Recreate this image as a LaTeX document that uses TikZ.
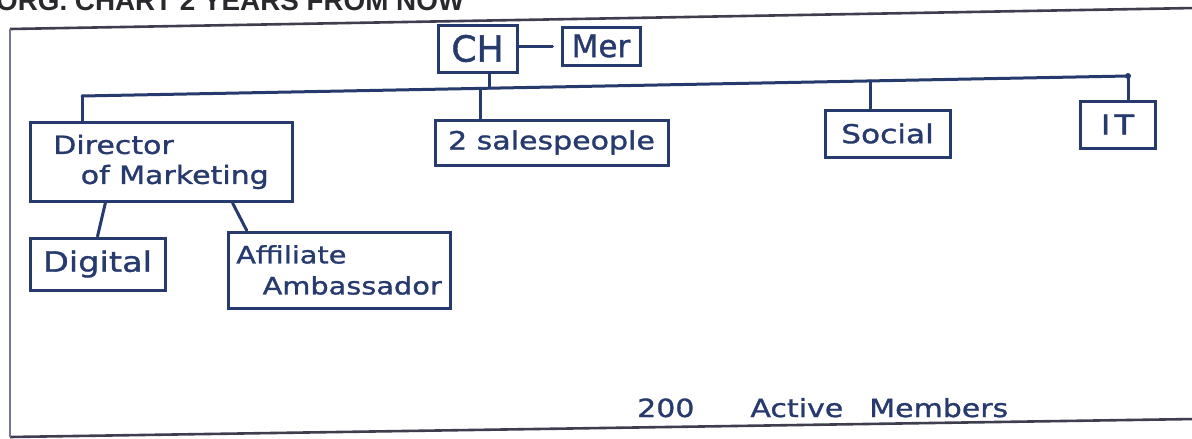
\documentclass[tikz,border=0pt]{standalone}
\usepackage{fontspec}
\setmainfont{Liberation Sans}
\newfontfamily\hand[FakeStretch=1.2,FakeBold=1.2]{DejaVu Sans}
\newfontfamily\handn[FakeBold=1.2]{DejaVu Sans}
\usetikzlibrary{calc}
\definecolor{ink}{RGB}{38,58,110}
\definecolor{framec}{RGB}{62,62,78}
\definecolor{framel}{RGB}{115,120,145}
\definecolor{headc}{RGB}{40,40,45}
\tikzset{
  box/.style={draw=ink, line width=3pt, rectangle, inner sep=0pt, text=ink, anchor=center},
  link/.style={draw=ink, line width=3pt, line cap=round},
  frameline/.style={draw=framec, line width=2.6pt},
  lbl/.style={text=ink, inner sep=0pt}
}
\begin{document}
\begin{tikzpicture}[x=1pt,y=-1pt]
\useasboundingbox[fill=white] (0,0) rectangle (1192,439);
\clip (0,0) rectangle (1192,439);
% header (cut off at top, as in the reference)
\node[anchor=base west, inner sep=0pt, text=headc, font=\bfseries\fontsize{27.8}{30}\selectfont] (head) at (-4,10) {ORG. CHART 2 YEARS FROM NOW};
% frame
\draw[frameline] (10,29) -- (1195,8);
\draw[frameline] (10,437) -- (1195,419);
\draw[draw=framel, line width=2.6pt] (10,29) -- (10,437);
% top
\node[box, minimum width=79pt, minimum height=47pt, font=\handn\fontsize{36}{40}\selectfont] (ch) at (477.5,48.5) {CH};
\node[box, minimum width=78pt, minimum height=38pt, font=\handn\fontsize{31}{36}\selectfont] (mer) at (601,46) {Mer};
\draw[link] (ch.east |- mer.west) -- ([xshift=-8pt]mer.west);
% second level
\node[box, minimum width=262pt, minimum height=79pt, align=left, font=\hand\fontsize{25}{30}\selectfont] (dir) at (161,162) {Director\\\hspace*{1.1em}of Marketing};
\node[box, minimum width=233pt, minimum height=45pt, font=\hand\fontsize{25}{28}\selectfont] (sales) at (551.5,142.5) {2 salespeople};
\node[box, minimum width=125pt, minimum height=47pt, font=\hand\fontsize{26}{30}\selectfont] (social) at (887.5,133.5) {Social};
\node[box, minimum width=75pt, minimum height=47pt, font=\hand\fontsize{27}{30}\selectfont] (it) at (1117.5,124.5) {I\kern4pt T};
% third level
\node[box, minimum width=135pt, minimum height=52pt, font=\hand\fontsize{28}{30}\selectfont] (dig) at (97.5,264) {Digital};
\node[box, minimum width=222pt, minimum height=76pt, align=left, font=\hand\fontsize{24}{31}\selectfont] (aff) at (339,270) {Affiliate\\\hspace*{1.1em}Ambassador};
% bus
\coordinate (bL) at (82,96);
\coordinate (bR) at (1128,76);
\coordinate (bCH) at (489,88.2);
\coordinate (bS) at (480,88.4);
\coordinate (bSo) at (870,80.9);
\draw[link] (bL) -- (bR);
\draw[link] (bCH |- ch.south) -- (bCH);
\draw[link] (bL) -- (bL |- dir.north);
\draw[link] (bS) -- (bS |- sales.north);
\draw[link] (bSo) -- (bSo |- social.north);
\draw[link] (bR) -- (bR |- it.north);
\fill[ink] (bR) circle (3pt);
\draw[link] ($(dir.south west)!0.29!(dir.south east)$) -- (dig.north);
\draw[link] ($(dir.south west)!0.77!(dir.south east)$) -- ($(aff.north west)!0.09!(aff.north east)$);
% members
\node[lbl, anchor=base west, font=\hand\fontsize{25}{28}\selectfont] (members) at (637,417) {200\hspace{56pt}Active\hspace{26pt}Members};
\end{tikzpicture}
\end{document}
